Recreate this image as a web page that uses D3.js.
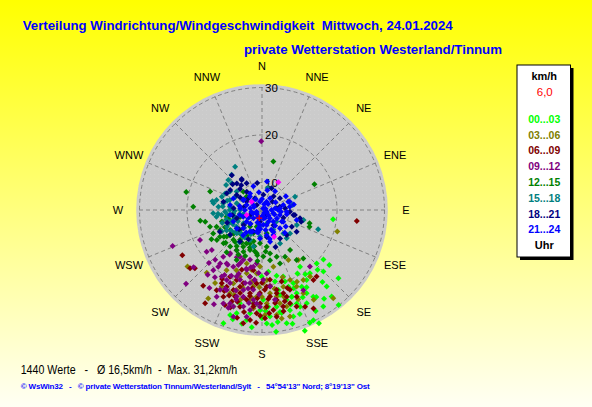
<!DOCTYPE html>
<html><head><meta charset="utf-8">
<script src="https://cdn.jsdelivr.net/npm/d3@7"></script>
<style>
body{margin:0;background:#fff;}
svg{display:block;}
text{font-family:"Liberation Sans",Arial,sans-serif;}
</style>
</head><body>
<svg id="c" width="592" height="407"></svg>
<script>
// ---------- DATA ----------
const titleText = "Verteilung Windrichtung/Windgeschwindigkeit  Mittwoch, 24.01.2024";
const subtitleText = "private Wetterstation Westerland/Tinnum";
const footerText1 = "1440 Werte   -   Ø 16,5km/h  -  Max. 31,2km/h";
const footerText2 = "© WsWin32   -   © private Wetterstation Tinnum/Westerland/Sylt   -   54°54'13\" Nord; 8°19'13\" Ost";
const directions = ["N","NNE","NE","ENE","E","ESE","SE","SSE","S","SSW","SW","WSW","W","WNW","NW","NNW"];
const ringTicks = [10, 20, 30];
const legendUnit = "km/h";
const legendMean = "6,0";
const legendFoot = "Uhr";
const hourBins = ["00...03","03...06","06...09","09...12","12...15","15...18","18...21","21...24"];
// mean wind vector [direction deg, speed km/h]
const meanVector = [199, 6.0];

// each point: [direction (deg), speed (km/h)]
const s00_03 = [[97.5,19.3],[128.8,20.8],[129.2,22.5],[131.8,25.8],[137.1,21.4],[142.8,20.9],[150.8,19.5],[147.5,21.7],[152.6,22.4],[156.9,21.0],[161,21.3],[162.3,18.9],[167.5,18.4],[168.5,21.4],[151.8,24.1],[149.4,25.4],[154.4,26.0],[158.5,26.1],[161.1,23.5],[164.7,23.8],[157.4,23.2],[164.4,26.1],[171.4,24.8],[169.2,26.3],[176.3,24.6],[179.2,23.1],[181.1,25.3],[185.3,23.9],[186.6,26.1],[193.8,26.6],[196.9,27.3],[198.8,29.4],[196.5,25.4],[193.3,24.4],[175.7,26.7],[173.4,30.0],[167.7,28.6],[163.6,27.6],[155,29.8],[160.5,31.2],[153.3,30.9],[141.1,29.9],[139.8,25.3],[141.2,27.6],[147.6,28.3],[187.9,27.6],[177.6,28.1],[180.3,18.2],[174.1,17.3],[169.7,19.5],[146.2,18.6],[134.3,20.3],[159.6,25.2],[162.2,20.0],
 [150,23],[155,24.5],[160,27.5],[165,29],[170,26],[175,28.5],[180,27],[185,29],[145,27],[148,25.8],[152,28.3],[158,22],[163,25],[168,22.5],[172,28],[178,25.5],[190,28.5],[140,24],[135,22.5],[157,30],[195,28],[183,24],[146,20.5],[161,23.5]];
const s03_06 = [[106,20.7],[141.1,28.1],[144,17.2],[152.2,16.1],[232.8,23.9],[221.4,21.8],[211.3,26.0],[207.8,22.4],[201.3,20.8],[198.3,19.0],[193.6,17.9],[184.8,17.6],[179,19.6],[174.5,21.8],[170.4,22.7],[164.5,21.0],[158.2,20.1],[149.4,21.3],[144.2,21.5],[187.6,23.3],[183.5,22.5],[193.7,23.7],[201,23.0],[177.1,23.9],[169.1,24.2],[165.7,25.2],[155.7,21.9],[196,15.9],[182,16.1],[168.7,16.4],[210.5,18.9],[169.7,27.4],[165.3,27.4],[178.4,26.3],[212.7,22.5],[153.6,23.8],[197.6,21.9],[186.4,20.4],
 [176,19],[182,20.5],[188,19.5],[171,21],[166,23],[158,24.5],[194,21],[198,23],[185,25],[178,24.8],[172,26.5],[190,17],[163,19],[154,21],[180,22.5],[203,18],[150,26],[186,23]];
const s06_09 = [[96.6,24.3],[240.4,23.5],[231,23.7],[229.1,22.9],[217.8,24.4],[211.4,27.2],[209.5,23.6],[204,24.2],[198.3,24.5],[192.8,25.1],[189.4,28.4],[186.2,27.5],[183,26.0],[178.4,27.0],[173.5,25.4],[170.7,23.4],[167.6,25.0],[163.3,24.7],[160.3,25.8],[174.7,22.5],[181.4,21.7],[188.2,21.9],[194.3,20.1],[199.9,19.9],[205.6,19.8],[190.2,18.5],[184.2,19.7],[176.5,20.4],[169.6,21.3],[165.6,22.3],[160.7,22.0],[189.7,23.4],[185.1,24.6],[177.2,24.6],[199.7,22.1],[204.7,22.0],[194.8,22.3],[181.2,23.9],[173.5,19.0],[164.7,19.8],[164.1,23.2],[158.2,23.9],[156,26.5],[143.7,22.5],[140.6,22.3],[152.4,27.6],[198.7,17.5],[188.2,17.0],[197.3,23.3],[208.8,21.8],[172.2,26.9],[201.3,25.7],
 [178,21],[183,22.8],[187,20.8],[192,23],[196,21],[201,23.5],[172,24],[176,26],[181,26.5],[190,26],[195,24.2],[185,24],[170,22],[166,24],[162,21.5],[180,19.5],[188,22.5],[198,25.8],[205,23],[174,20.3],[168,26],[193,27.5],[183,28],[176,23],[186,19],[210,21]];
const s09_12 = [[359.4,18.7],[248,24.5],[225.8,26.5],[244.2,18.7],[233,18.8],[230.1,23.0],[223.2,18.6],[231.5,17.7],[217.6,19.3],[211.2,20.6],[206.8,20.7],[207.7,23.2],[203.8,22.6],[206.8,17.6],[203.3,16.8],[200.5,15.4],[193.5,15.0],[185.7,15.5],[194.3,17.2],[197.4,19.6],[189.3,19.8],[186.2,21.1],[193.1,21.5],[196.3,23.2],[190.9,24.9],[186.8,25.4],[181.2,24.6],[196.5,25.4],[198.9,25.0],[202.5,25.5],[188.2,26.9],[178.9,18.9],[175.8,17.6],[213.5,17.7],[216.4,15.5],[212.3,14.2],[152.7,23.2],[139.7,19.8],[188.7,16.3],[190.2,18.5],[200.8,19.2],[192.2,22.9],[183.3,23.9],[219,20.5],[219.6,17.0],[205.2,15.1],[203.6,21.0],[185.5,23.2],[174,20.4],[171.8,23.3],[207.6,24.8],[195,27.5],
 [195,17],[200,18.5],[205,19.5],[210,20],[215,21.5],[190,21],[198,22],[205,22.5],[212,17.8],[218,18.5],[186,19],[193,20],[202,16.2],[208,15.5],[196,23.8],[188,24],[182,22],[214,24],[220,22],[225,20],[199,26],[191,16.5],[183,17.5],[207,26.5],[216,15.8]];
const s12_15 = [[13.2,14.7],[63.9,16.5],[283.3,20.6],[289.7,15.8],[272.8,18.7],[260.2,17.4],[258.4,16.4],[252.2,15.7],[249.8,14.4],[244.4,15.6],[244.5,14.0],[233,13.5],[223.7,12.9],[216.3,12.0],[209.9,10.7],[200.4,9.4],[183.4,11.2],[172.7,12.0],[169.5,13.5],[178.4,14.0],[196.7,13.0],[207,12.9],[212.3,14.2],[221.1,14.4],[229.2,14.9],[237.6,14.7],[145,14.5],[145.3,17.0],[139.5,17.6],[105.7,14.6],[109.4,14.8],[153.8,15.2],[161.4,16.1],[253.1,9.0],[250.8,10.6],[259.3,11.8],[253.9,13.0],[170.9,14.9],[187,13.4],[311,8.5],[314.5,9.7],[215.8,8.5],[197.7,7.9],[227.7,10.5],[238,12.1],[199.8,11.7],[206.9,16.0],[236.5,15.6],[162.5,14.5],[168.7,9.2],
 [230,12],[235,14],[215,13.5],[205,12],[195,11],[190,13],[220,15.8],[225,11],[245,12.8],[200,14.5],[185,15],[210,10],[240,16.5],[175,13],[255,11.5],
 [220,13],[212,12.3],[204,13.8],[198,12.5],[228,14.5],[232,12.8],[218,11],[208,14.8],[192,12],[186,13.8]];
const s15_18 = [[328.1,14.9],[319.1,14.0],[311.3,12.7],[304.8,13.4],[14.2,9.0],[80.7,10.7],[68,11.7],[282.4,14.0],[277.8,14.5],[274.4,13.4],[279.8,12.5],[275.9,11.0],[284.7,9.7],[298.2,8.7],[267.4,12.0],[263.4,10.3],[270,8.8],[262.9,12.8],[266.1,14.5],[250,11.4],[236.7,10.6],[234.5,9.0],[241,7.1],[186.8,7.7],[160.7,7.2],[150.5,9.0],[137.6,10.9],[129.8,11.9],[113.4,12.2],[103.6,13.2],[108.9,16.7],[184.3,9.8],[201.8,11.0],[227.4,11.4],[151.6,12.2],[305.9,10.8],[294.2,12.7],[288.3,13.1],[244.7,12.4],[128.5,8.1],[139,12.1],[311.7,13.7],[246.5,7.7],[238,5.5],[261.6,13.9],[215,11.1],[193.3,12.1],[287.4,11.3],
 [270,11],[265,13.5],[275,12.5],[285,11.8],[295,10.5],[255,12],[245,9.8],[240,12.8],[230,11.5],[225,9.5],[215,12.5],[205,9.8],[280,14.8],[300,12],[260,9],[250,10.8],
 [255,10],[248,11.8],[262,11.5],[244,11],[236,12],[258,8.2],[268,10],[252,13],[242,13.8],[232,9],[222,10.8],[212,11]];
const s18_21 = [[326.7,12.0],[330.1,10.7],[311.2,12.4],[313.7,10.6],[302,12.1],[295.3,12.4],[300.6,10.4],[320.1,9.2],[329,7.1],[5.1,7.4],[52,7.0],[57,8.7],[85.9,9.1],[93.4,10.1],[98.6,11.2],[102.4,12.4],[119.3,11.4],[122,12.8],[135.4,11.6],[147.6,11.3],[282.2,12.5],[273.3,10.2],[242.7,14.2],[232,12.7],[214.8,12.3],[201.8,9.1],[247.4,6.9],[313.2,5.7],[137,5.6],[231.2,9.2],[142.9,8.2],[24,9.2],[189.7,6.7],[251.8,9.8],[298.5,7.9],[83.5,7.3],[106.7,12.8],[99.1,10.9],[319.1,13.9],[316.5,11.9],[325.9,11.8],
 [300,9.5],[310,8],[320,11],[280,8],[260,10.5],[250,12],[230,10.5],[220,8],[205,11],[190,8.5],[170,10],[160,12.5],[110,9],[80,8],[40,8],[350,10]];
const s21_24 = [[292.1,10.7],[298.2,8.7],[318,8.0],[300,6.3],[346.5,6.0],[29.2,6.2],[34.4,7.2],[82.7,7.0],[90,7.6],[76.8,8.8],[72.4,10.0],[83.2,10.1],[119.6,7.8],[118.7,9.3],[135.5,9.6],[152.4,9.4],[169.4,9.6],[184,10.2],[216.7,10.8],[234.1,10.8],[247.9,10.7],[261.1,11.0],[257.2,9.0],[232.7,8.3],[226.1,6.7],[187.6,7.4],[162.7,7.5],[135.8,7.6],[109.7,5.2],[252.6,5.4],[277.9,6.7],[274.3,8.8],[105.5,8.1],[165.8,11.1],[209,9.4],[225.5,9.7],[193.8,8.9],[278.9,11.0],[170.9,6.0],[136.2,6.6],[38.7,4.6],[249,6.2],[106.4,6.7],[191.3,8.1],[288.1,7.6],[93.9,9.4],[84.6,8.0],[73.5,10.3],[324.3,8.5],[106.1,11.8],[155.7,10.0],
 [0,6.5],[20,5.5],[45,6],[60,7.5],[90,6.2],[110,7],[120,9],[130,6],[140,8.5],[150,7],[160,6],[170,8.5],[180,5.5],[190,9],[200,7],[210,6],[220,8],[240,7.5],[260,6.5],[270,7.8],[290,6],[310,7],[330,6.8],[350,8],[15,8.5],[70,5],[100,9.5],[125,10.3],[145,5],[165,10.5],[175,7.3],[185,8.2],[205,9.2],[230,5.6],[250,8.4],[280,9],[300,8.6],[340,9.5],[35,9],[80,11],[115,5.3],[155,8.8],[195,6],[215,10],[95,8.2],[135,11],[60,10],[10,10.3]];
// highlighted (latest) values
const currentValues = [[30.5,11.0],[308.9,7.0],[155.8,10.4],[251.9,7.6]];

const seriesList = [s00_03, s03_06, s06_09, s09_12, s12_15, s15_18, s18_21, s21_24];

// ---------- STYLES ----------
const binColors = ["#00ff00","#808000","#800000","#800080","#008000","#008080","#000080","#0000ff"];
const W = 592, H = 407, cx = 262, cy = 210;

const svg = d3.select("#c");
const defs = svg.append("defs");
const grad = defs.append("linearGradient").attr("id","bg").attr("x1",0).attr("y1",0).attr("x2",0).attr("y2",1);
grad.append("stop").attr("offset","0%").attr("stop-color","#ffff00");
grad.append("stop").attr("offset","100%").attr("stop-color","#fffff4");
const pat = defs.append("pattern").attr("id","dots").attr("width",4).attr("height",4).attr("patternUnits","userSpaceOnUse");
pat.append("rect").attr("width",4).attr("height",4).attr("fill","#cbcbcb");
pat.append("rect").attr("width",1).attr("height",1).attr("fill","#d0d0d0");

svg.append("rect").attr("width",W).attr("height",H).attr("fill","url(#bg)");

// titles
svg.append("text").attr("x",22.7).attr("y",30).attr("fill","#0000ff").attr("font-weight","bold")
  .attr("font-size",13).attr("textLength",430).attr("lengthAdjust","spacingAndGlyphs")
  .style("white-space","pre").text(titleText);
svg.append("text").attr("x",244).attr("y",54).attr("fill","#0000ff").attr("font-weight","bold")
  .attr("font-size",13).attr("textLength",258).attr("lengthAdjust","spacingAndGlyphs").text(subtitleText);

// scales
const rScale = d3.scaleLinear().domain([4.2, 30]).range([0, 122.5]);
const aScale = d3.scaleLinear().domain([0, 360]).range([0, 2*Math.PI]);
const pos = d => d3.pointRadial(aScale(d[0]), rScale(d[1]));
const outerR = rScale(30.7);

const g = svg.append("g").attr("transform",`translate(${cx},${cy})`);
g.append("circle").attr("r",outerR).attr("fill","url(#dots)");

// spokes
const dirAngles = directions.map((d,i) => i*360/directions.length);
g.selectAll("line.spoke").data(dirAngles).join("line")
  .attr("x1",0).attr("y1",0)
  .attr("x2",d => d3.pointRadial(aScale(d), outerR)[0])
  .attr("y2",d => d3.pointRadial(aScale(d), outerR)[1])
  .attr("stroke","#808080").attr("stroke-width",1).attr("stroke-dasharray","4,3");
// rings
g.selectAll("circle.ring").data(ringTicks).join("circle")
  .attr("r",d => rScale(d)).attr("fill","none")
  .attr("stroke","#808080").attr("stroke-width",1).attr("stroke-dasharray","4,3");
g.selectAll("text.rl").data(ringTicks).join("text")
  .attr("x",3).attr("y",d => -rScale(d)).attr("dy","0.35em")
  .attr("font-size",11.5).attr("fill","#000").text(d => d);

// compass labels
g.selectAll("text.dir").data(directions).join("text")
  .attr("x",(d,i) => d3.pointRadial(aScale(dirAngles[i]), 144)[0])
  .attr("y",(d,i) => d3.pointRadial(aScale(dirAngles[i]), 144)[1])
  .attr("text-anchor","middle").attr("dy","0.35em")
  .attr("font-size",11).attr("fill","#000").text(d => d);

// points
const diamond = "M0,-3L3,0L0,3L-3,0Z";
seriesList.forEach((series, k) => {
  g.append("g").selectAll("path").data(series).join("path")
    .attr("d", diamond)
    .attr("transform", d => `translate(${pos(d)[0]},${pos(d)[1]})`)
    .attr("fill", binColors[k]);
});
g.append("g").selectAll("path").data(currentValues).join("path")
  .attr("d", diamond)
  .attr("transform", d => `translate(${pos(d)[0]},${pos(d)[1]})`)
  .attr("fill", "#ff00ff");
// mean vector marker
const mp = pos(meanVector);
g.append("path").attr("d",`M${mp[0]-3},${mp[1]}H${mp[0]+3}M${mp[0]},${mp[1]-3}V${mp[1]+3}`)
  .attr("stroke","#ff0000").attr("stroke-width",1.2);

// legend
const lx = 517, ly = 65, lw = 53.5, lh = 192;
svg.append("rect").attr("x",lx+3).attr("y",ly+3).attr("width",lw).attr("height",lh).attr("fill","#000");
svg.append("rect").attr("x",lx).attr("y",ly).attr("width",lw).attr("height",lh).attr("fill","#fff").attr("stroke","#000").attr("stroke-width",1);
const lcx = lx + lw/2 + 0.5;
svg.append("text").attr("x",lcx).attr("y",75.7).attr("dy","0.35em").attr("text-anchor","middle")
  .attr("font-weight","bold").attr("font-size",11).text(legendUnit);
svg.append("text").attr("x",lcx+0.5).attr("y",91.7).attr("dy","0.35em").attr("text-anchor","middle")
  .attr("font-size",11.5).attr("fill","#ff0000").text(legendMean);
svg.selectAll("text.leg").data(hourBins).join("text")
  .attr("x",lcx).attr("y",(d,i) => 119.2 + i*15.8).attr("dy","0.35em").attr("text-anchor","middle")
  .attr("font-weight","bold").attr("font-size",10.5).attr("fill",(d,i) => binColors[i]).text(d => d);
svg.append("text").attr("x",lcx).attr("y",245.5).attr("dy","0.35em").attr("text-anchor","middle")
  .attr("font-weight","bold").attr("font-size",11).text(legendFoot);

// footer
svg.append("text").attr("x",20.7).attr("y",373.5).attr("font-size",12).attr("fill","#000")
  .attr("textLength",216.6).attr("lengthAdjust","spacingAndGlyphs").style("white-space","pre").text(footerText1);
svg.append("text").attr("x",20.7).attr("y",388.5).attr("font-size",8).attr("font-weight","bold").attr("fill","#0000ff")
  .attr("textLength",349).attr("lengthAdjust","spacing").style("white-space","pre").text(footerText2);
</script>
</body></html>
